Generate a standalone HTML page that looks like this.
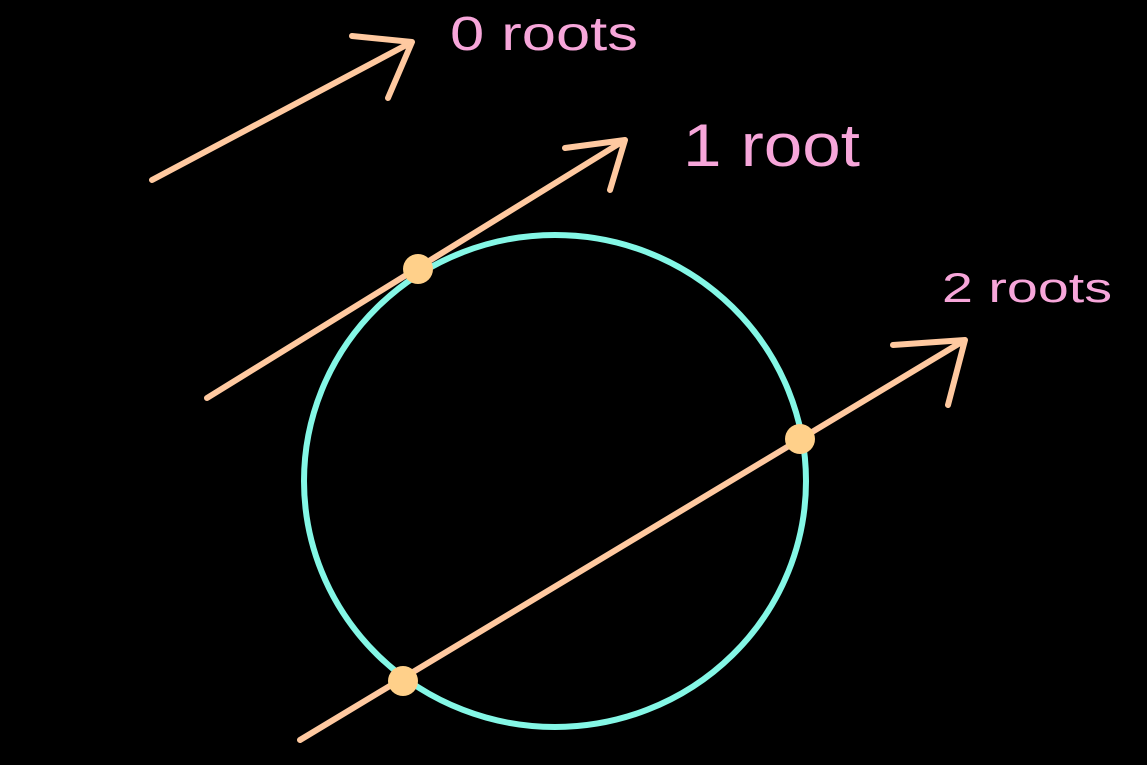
<!DOCTYPE html>
<html><head><meta charset="utf-8"><style>
html,body{margin:0;padding:0;background:#000;width:1147px;height:765px;overflow:hidden}
svg{display:block}
text{font-family:"Liberation Sans",sans-serif;fill:#f7a6da}
</style></head><body>
<svg width="1147" height="765">
<rect width="1147" height="765" fill="#000"/>
<ellipse cx="555" cy="481" rx="251" ry="246" fill="none" stroke="#84f7e6" stroke-width="6"/>
<g id="lines"></g>
<g id="dots"></g>
<text x="450" y="50" font-size="48" textLength="188" lengthAdjust="spacingAndGlyphs">0 roots</text>
<text x="683" y="166" font-size="60" textLength="177" lengthAdjust="spacingAndGlyphs">1 root</text>
<text x="942" y="302" font-size="42" textLength="170" lengthAdjust="spacingAndGlyphs">2 roots</text>
</svg>
<script>
const lineStarts=[[152,180],[207,398],[300,740]];
const lineEnds=[[412,42],[625,140],[965,340]];
const headA=[[352,36],[565,148],[893,345]];
const headB=[[388,98],[610,190],[948,405]];
const dotPts=[[418,269],[800,439],[403,681]];
const NS="http://www.w3.org/2000/svg";
const lg=document.getElementById('lines'), dg=document.getElementById('dots');
lineStarts.forEach((s,i)=>{
  const e=lineEnds[i],a=headA[i],b=headB[i];
  const p=document.createElementNS(NS,'path');
  p.setAttribute('d',`M${s[0]},${s[1]} L${e[0]},${e[1]} M${a[0]},${a[1]} L${e[0]},${e[1]} L${b[0]},${b[1]}`);
  p.setAttribute('stroke','#ffc9a0');p.setAttribute('stroke-width','6');p.setAttribute('fill','none');
  p.setAttribute('stroke-linecap','round');p.setAttribute('stroke-linejoin','round');
  
  
  lg.appendChild(p);
});
dotPts.forEach(d=>{
  const c=document.createElementNS(NS,'circle');
  c.setAttribute('cx',d[0]);c.setAttribute('cy',d[1]);c.setAttribute('r','15');c.setAttribute('fill','#ffd08a');
  
  
  dg.appendChild(c);
});
</script>
</body></html>
